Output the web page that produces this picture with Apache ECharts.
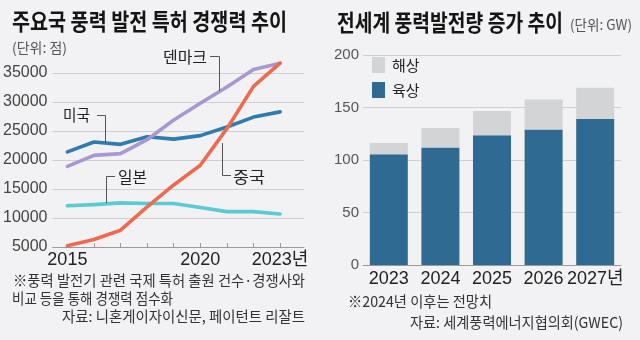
<!DOCTYPE html>
<html><head><meta charset="utf-8">
<script src="https://cdn.jsdelivr.net/npm/echarts@6/dist/echarts.min.js"></script>
<style>html,body{margin:0;padding:0;background:#f2f2f4}#c{width:640px;height:340px}</style>
</head><body><div id="c"></div><script>
// ---- Data: left chart (patent competitiveness score) ----
const years = [2015, 2016, 2017, 2018, 2019, 2020, 2021, 2022, 2023];
const usa     = [21400, 23100, 22700, 24000, 23600, 24200, 25700, 27400, 28300];
const denmark = [18900, 20800, 21100, 23500, 26900, 29800, 32600, 35600, 36700];
const china   = [5200, 6300, 7900, 11900, 15700, 19100, 25400, 32700, 36700];
const japan   = [12100, 12300, 12600, 12500, 12500, 11800, 11100, 11100, 10700];
const lineXLabels = [2015, 2020, 2023];
// ---- Data: right chart (global wind power additions, GW) ----
const barYears = ['2023', '2024', '2025', '2026', '2027'];
const onshore  = [105.5, 112, 123.5, 129, 139];
const offshore = [10.7, 18.5, 23.2, 28.6, 29.9];

const NUM = "'Liberation Sans Narrow','Liberation Sans','Noto Sans CJK KR',sans-serif";
const CJK = "'Noto Sans CJK KR',sans-serif";

const ctx = document.createElement('canvas').getContext('2d');
function txt(text, x, y, w, size, opts) {
  opts = opts || {};
  const weight = opts.bold ? 'bold ' : '';
  const font = weight + size + 'px ' + CJK;
  ctx.font = font;
  const mw = ctx.measureText(text).width;
  const align = opts.align || 'left';
  return {
    type: 'text', x: x, y: y, scaleX: w / mw, z: 100,
    style: {text: text, font: font, fill: opts.color || '#222',
      align: align, textAlign: align, verticalAlign: 'middle', textVerticalAlign: 'middle'}
  };
}
function leader(points) {
  return {type: 'polyline', z: 90, shape: {points: points}, style: {stroke: '#555', lineWidth: 1, fill: null}};
}

const pairs = arr => years.map((y, i) => [y, arr[i]]);
function lineSeries(name, arr, color) {
  return {name: name, type: 'line', xAxisIndex: 0, yAxisIndex: 0, data: pairs(arr),
    symbol: 'none', smooth: false,
    lineStyle: {color: color, width: 3.6, cap: 'round', join: 'round'}, itemStyle: {color: color}};
}

const splitColors = ['#cfcfd1','#cfcfd1','#cfcfd1','#cfcfd1','#cfcfd1','#cfcfd1','#cfcfd1','rgba(0,0,0,0)'];

const option = {
  backgroundColor: '#f2f2f4',
  animation: false,
  grid: [
    {left: 52, top: 58.5, width: 252, height: 188.5},
    {left: 363, top: 55, width: 258, height: 210}
  ],
  legend: {
    data: ['해상', '육상'], orient: 'vertical', left: 372, top: 57, padding: 0,
    itemWidth: 13, itemHeight: 16, itemGap: 9, icon: 'rect',
    textStyle: {fontFamily: CJK, fontSize: 15, color: '#222', padding: [0, 0, 0, 2]}
  },
  xAxis: [
    {type: 'value', gridIndex: 0, min: 2014.44, max: 2023.9,
      axisLine: {show: true, lineStyle: {color: '#9a9a9a', width: 1}},
      axisTick: {show: true, inside: true, length: 4, customValues: years.slice(1), lineStyle: {color: '#9a9a9a'}},
      axisLabel: {customValues: lineXLabels, formatter: v => v === 2023 ? v + '년' : String(v),
        fontFamily: NUM, fontSize: 18, color: '#222', margin: 4},
      splitLine: {show: false}},
    {type: 'category', gridIndex: 1, data: barYears,
      axisLine: {show: true, lineStyle: {color: '#9a9a9a', width: 1}},
      axisTick: {show: false},
      axisLabel: {formatter: (v, i) => i === barYears.length - 1 ? v + '년' : v,
        fontFamily: NUM, fontSize: 18, color: '#222', margin: 5, interval: 0}}
  ],
  yAxis: [
    {type: 'value', gridIndex: 0, min: 5000, max: 37500, interval: 5000,
      axisLine: {show: false}, axisTick: {show: false},
      axisLabel: {showMaxLabel: false, formatter: v => String(v), fontFamily: NUM, fontSize: 16, color: '#444', margin: 5},
      splitLine: {show: true, lineStyle: {color: splitColors, width: 1}}},
    {type: 'value', gridIndex: 1, min: 0, max: 200, interval: 50,
      axisLine: {show: false}, axisTick: {show: false},
      axisLabel: {fontFamily: NUM, fontSize: 15, color: '#555', margin: 4},
      splitLine: {show: true, lineStyle: {color: '#cfcfd1', width: 1}}}
  ],
  series: [
    lineSeries('일본', japan, '#5ccad2'),
    lineSeries('미국', usa, '#2f7bae'),
    lineSeries('덴마크', denmark, '#a898d2'),
    lineSeries('중국', china, '#ee6b4f'),
    {name: '육상', type: 'bar', xAxisIndex: 1, yAxisIndex: 1, stack: 'gw', data: onshore,
      barWidth: 38, itemStyle: {color: '#2f6a93'}},
    {name: '해상', type: 'bar', xAxisIndex: 1, yAxisIndex: 1, stack: 'gw', data: offshore,
      barWidth: 38, itemStyle: {color: '#d3d4d6'}}
  ],
  graphic: [
    txt('주요국 풍력 발전 특허 경쟁력 추이', 12, 21, 275, 23, {bold: true, color: '#151515'}),
    txt('(단위: 점)', 12, 48, 55, 14, {color: '#555'}),
    txt('전세계 풍력발전량 증가 추이', 337, 22, 226, 23, {bold: true, color: '#151515'}),
    txt('(단위: GW)', 570, 24.5, 62, 14, {color: '#555'}),
    txt('※풍력 발전기 관련 국제 특허 출원 건수·경쟁사와', 13, 280, 292, 15, {color: '#333'}),
    txt('비교 등을 통해 경쟁력 점수화', 12, 298, 161, 15, {color: '#333'}),
    txt('자료: 니혼게이자이신문, 페이턴트 리잘트', 305, 316, 243, 15, {color: '#333', align: 'right'}),
    txt('※2024년 이후는 전망치', 348, 301, 144, 15, {color: '#333'}),
    txt('자료: 세계풍력에너지협의회(GWEC)', 623, 322, 213, 15, {color: '#333', align: 'right'}),
    txt('덴마크', 163, 57, 44, 16),
    txt('미국', 63, 115, 27, 16),
    txt('일본', 118, 177, 29, 16),
    txt('중국', 233, 177, 32, 16),
    leader([[210, 56.5], [219.5, 56.5], [219.5, 91]]),
    leader([[97, 115.5], [105.5, 115.5], [105.5, 142]]),
    leader([[115, 176.5], [106.5, 176.5], [106.5, 203]]),
    leader([[231, 175.5], [222.5, 175.5], [222.5, 143]])
  ]
};
const chart = echarts.init(document.getElementById('c'), null, {renderer: 'canvas'});
chart.setOption(option);
</script></body></html>
